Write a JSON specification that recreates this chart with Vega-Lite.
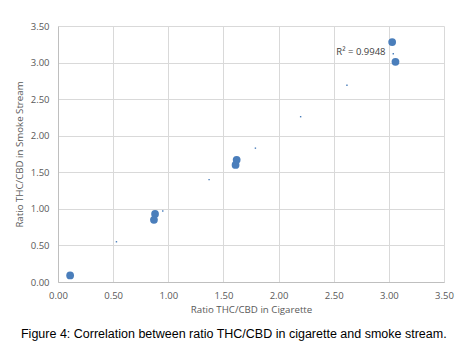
{
  "$schema": "https://vega.github.io/schema/vega-lite/v6.json",
  "width": 386,
  "height": 256,
  "autosize": {"type": "none"},
  "padding": {"left": 58, "top": 26, "right": 23, "bottom": 81},
  "background": "white",
  "config": {
    "view": {"stroke": null},
    "font": "Open Sans",
    "axis": {
      "ticks": false,
      "labelOverlap": false,
      "labelFlush": false,
      "domainColor": "#bfbfbf",
      "gridColor": "#d9d9d9",
      "labelColor": "#595959",
      "labelFontSize": 9.5,
      "titleFontSize": 9.7,
      "titleFontWeight": "normal",
      "titleColor": "#595959"
    }
  },
  "title": {
    "text": "Figure 4: Correlation between ratio THC/CBD in cigarette and smoke stream.",
    "orient": "bottom",
    "anchor": "middle",
    "frame": "bounds",
    "font": "Liberation Sans",
    "fontSize": 12.5,
    "fontWeight": "normal",
    "color": "#000000",
    "offset": 14
  },
  "data": {
    "values": [
      {"x": 3.03, "y": 3.28, "kind": "obs"},
      {"x": 3.06, "y": 3.01, "kind": "obs"},
      {"x": 1.62, "y": 1.67, "kind": "obs"},
      {"x": 1.61, "y": 1.60, "kind": "obs"},
      {"x": 0.88, "y": 0.93, "kind": "obs"},
      {"x": 0.87, "y": 0.85, "kind": "obs"},
      {"x": 0.11, "y": 0.09, "kind": "obs"},
      {"x": 0.53, "y": 0.55, "kind": "trend"},
      {"x": 0.95, "y": 0.97, "kind": "trend"},
      {"x": 1.37, "y": 1.40, "kind": "trend"},
      {"x": 1.64, "y": 1.67, "kind": "trend"},
      {"x": 1.79, "y": 1.83, "kind": "trend"},
      {"x": 2.20, "y": 2.26, "kind": "trend"},
      {"x": 2.62, "y": 2.69, "kind": "trend"},
      {"x": 3.04, "y": 3.12, "kind": "trend"}
    ]
  },
  "encoding": {
    "x": {
      "field": "x", "type": "quantitative",
      "scale": {"domain": [0, 3.5], "nice": false, "zero": false},
      "axis": {
        "values": [0, 0.5, 1, 1.5, 2, 2.5, 3, 3.5],
        "format": ".2f",
        "title": "Ratio THC/CBD in Cigarette",
        "labelPadding": 8,
        "titlePadding": 5
      }
    },
    "y": {
      "field": "y", "type": "quantitative",
      "scale": {"domain": [0, 3.5], "nice": false, "zero": false},
      "axis": {
        "values": [0, 0.5, 1, 1.5, 2, 2.5, 3, 3.5],
        "tickCount": 8,
        "format": ".2f",
        "title": "Ratio THC/CBD in Smoke Stream",
        "labelPadding": 9,
        "titlePadding": 6
      }
    }
  },
  "layer": [
    {
      "transform": [{"filter": "datum.kind === 'obs'"}],
      "mark": {"type": "point", "filled": true, "opacity": 1, "size": 60, "color": "#4a7ebb"}
    },
    {
      "transform": [{"filter": "datum.kind === 'trend'"}],
      "mark": {"type": "square", "filled": true, "opacity": 1, "size": 2, "color": "#4a7ebb"}
    },
    {
      "data": {"values": [{"x": 2.97, "y": 3.14, "label": "R² = 0.9948"}]},
      "mark": {"type": "text", "align": "right", "baseline": "middle", "fontSize": 9.5, "color": "#404040"},
      "encoding": {
        "text": {"field": "label"}
      }
    }
  ]
}
